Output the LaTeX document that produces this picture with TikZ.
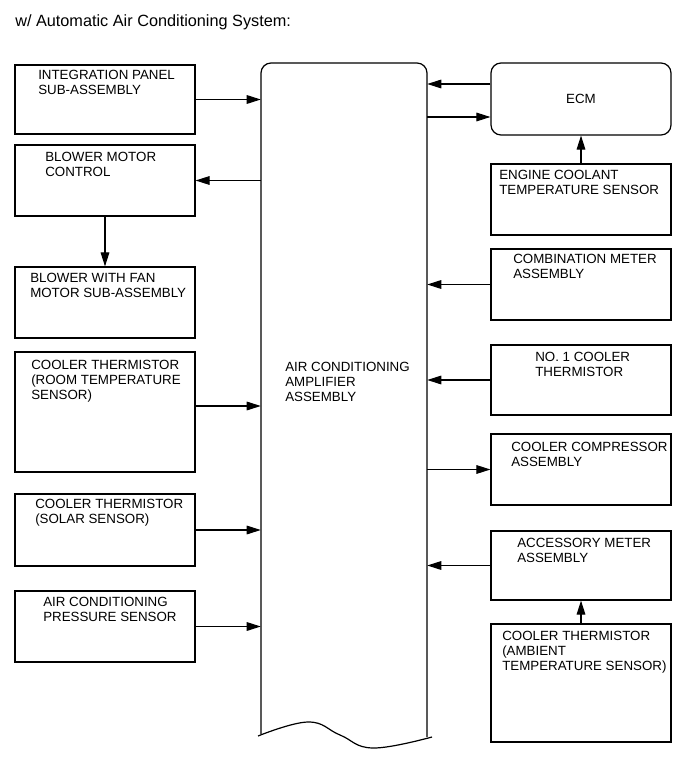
\documentclass[tikz,border=0pt]{standalone}
\usepackage{fontspec}
\setmainfont{Liberation Sans}
\usetikzlibrary{arrows.meta}
\begin{document}
\begin{tikzpicture}[x=0.75pt,y=-0.75pt,
  bx/.style n args={4}{draw, line width=0.9pt, inner sep=0pt,
    minimum width={(#3-#1)*0.75pt}, minimum height={(#4-#2)*0.75pt},
    at={({(#1+#3)/2},{(#2+#4)/2})}},
  lbl/.style={anchor=base west, align=left, inner sep=0pt,
    font=\fontsize{10}{11.25}\selectfont},
  arr/.style={line width=0.8pt, -{Triangle[length=10.5pt,width=6.5pt]}}]
\useasboundingbox (0,0) rectangle (691,759);

% title
\node[anchor=base west, inner sep=0pt, font=\fontsize{12.2}{14}\selectfont] (title) at (15,26.5) {w/ Automatic Air Conditioning System:};

% central amplifier
\node[inner sep=0pt, minimum width=124.5pt, minimum height=504pt] (amp) at (344,399) {};
\draw[line width=0.9pt, rounded corners=7.5pt] (261,734) -- (261,63) -- (427,63) -- (427,737);
\draw[line width=0.9pt] plot[smooth, tension=0.7] coordinates {(258,736) (308,722) (340,735) (373,748) (432,737)};
\node[lbl] (ampt) at (285,401) {AIR CONDITIONING\\AMPLIFIER\\ASSEMBLY};

% left boxes
\node[bx={15}{65}{195}{134}] (ip) {};
\node[lbl] (ipt) at (38,95) {INTEGRATION PANEL\\SUB-ASSEMBLY};
\node[bx={15}{145}{195}{216}] (bmc) {};
\node[lbl] (bmct) at (45,177) {BLOWER MOTOR\\CONTROL};
\node[bx={15}{267}{195}{338}] (bwf) {};
\node[lbl] (bwft) at (30,297) {BLOWER WITH FAN\\MOTOR SUB-ASSEMBLY};
\node[bx={15}{352}{195}{472}] (room) {};
\node[lbl] (roomt) at (31,399) {COOLER THERMISTOR\\(ROOM TEMPERATURE\\SENSOR)};
\node[bx={15}{494}{195}{566}] (solar) {};
\node[lbl] (solart) at (35,523) {COOLER THERMISTOR\\(SOLAR SENSOR)};
\node[bx={15}{591}{195}{662}] (press) {};
\node[lbl] (presst) at (43,621) {AIR CONDITIONING\\PRESSURE SENSOR};

% right boxes
\node[bx={491}{63}{671}{135}, rounded corners=7.5pt] (ecm) {};
\node[anchor=base, inner sep=0pt, font=\fontsize{10}{11.25}\selectfont] (ecmt) at (581,104) {ECM};
\node[bx={491}{164}{671}{235}] (eng) {};
\node[lbl] (engt) at (499,195) {ENGINE COOLANT\\TEMPERATURE SENSOR};
\node[bx={491}{249}{671}{320}] (comb) {};
\node[lbl] (combt) at (513,278) {COMBINATION METER\\ASSEMBLY};
\node[bx={491}{345}{671}{415}] (no1) {};
\node[lbl] (no1t) at (535,376) {NO. 1 COOLER\\THERMISTOR};
\node[bx={491}{434}{671}{505}] (comp) {};
\node[lbl] (compt) at (511,466) {COOLER COMPRESSOR\\ASSEMBLY};
\node[bx={491}{531}{671}{600}] (acc) {};
\node[lbl] (acct) at (517,562) {ACCESSORY METER\\ASSEMBLY};
\node[bx={491}{624}{671}{742}] (amb) {};
\node[lbl] (ambt) at (502,670) {COOLER THERMISTOR\\(AMBIENT\\TEMPERATURE SENSOR)};

% connectors
\coordinate (r1) at ([yshift=4.5pt]room.east);
\coordinate (e1) at ([yshift=11.25pt]ecm.west);
\coordinate (e2) at ([yshift=-13.5pt]ecm.west);
\draw[arr] (ip.east) -- (ip.east -| amp.west);
\draw[arr] (bmc.east -| amp.west) -- (bmc.east);
\draw[arr] (bmc.south) -- (bwf.north);
\draw[arr] (r1) -- (r1 -| amp.west);
\draw[arr] (solar.east) -- (solar.east -| amp.west);
\draw[arr] (press.east) -- (press.east -| amp.west);
\draw[arr] (e1) -- (e1 -| amp.east);
\draw[arr] (e2 -| amp.east) -- (e2);
\draw[arr] (eng.north) -- (ecm.south);
\draw[arr] (comb.west) -- (comb.west -| amp.east);
\draw[arr] (no1.west) -- (no1.west -| amp.east);
\draw[arr] (comp.west -| amp.east) -- (comp.west);
\draw[arr] (acc.west) -- (acc.west -| amp.east);
\draw[arr] (amb.north) -- (acc.south);
\end{tikzpicture}
\end{document}
